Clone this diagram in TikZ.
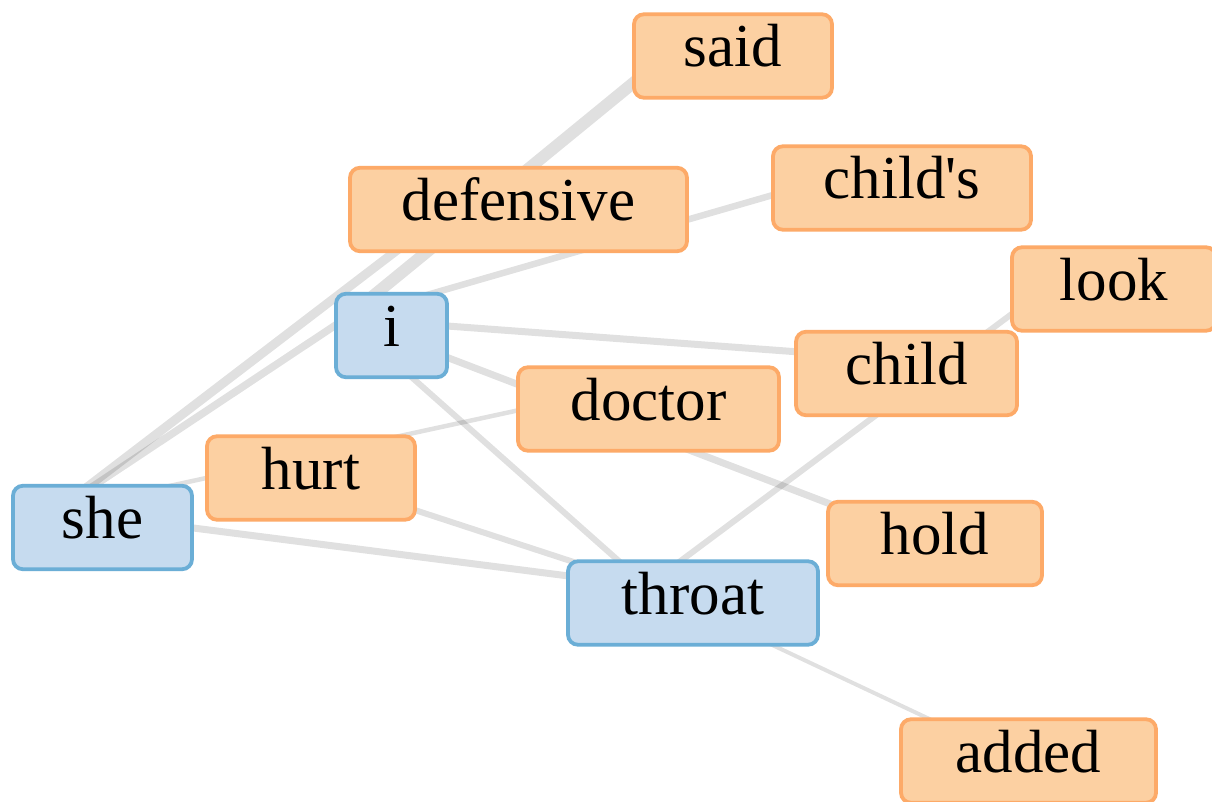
\documentclass[tikz,border=0pt]{standalone}
\usepackage{fontspec}
\setmainfont{Liberation Serif}
\usetikzlibrary{calc}
\pgfdeclarelayer{bg}
\pgfsetlayers{bg,main}
\definecolor{tagfill}{RGB}{252,208,162}
\definecolor{tagline}{RGB}{253,170,104}
\definecolor{keyfill}{RGB}{198,219,239}
\definecolor{keyline}{RGB}{107,174,214}

\begin{document}
\begin{tikzpicture}[x=1pt,y=-1pt,
  word/.style={rounded corners=10pt, line width=3.8pt, minimum height=83.5pt,
    inner sep=0pt, text height=22pt, text depth=0pt,
    font=\fontsize{61}{66}\selectfont},
  tag/.style={word, fill=tagfill, draw=tagline},
  key/.style={word, fill=keyfill, draw=keyline},
  link/.style={draw=black, draw opacity=0.12, line cap=butt},
]
\useasboundingbox (0,0) rectangle (1212,802);

% word boxes
\node[tag, minimum width=198pt] (said)      at (733,56)      {said};
\node[tag, minimum width=337pt] (defensive) at (518.5,209.5) {defensive};
\node[tag, minimum width=258pt] (childs)    at (902,188)     {child\textquotesingle s};
\node[tag, minimum width=204pt] (look)      at (1114,289)    {look};
\node[key, minimum width=111pt] (i)         at (391.5,335.5) {i};
\node[tag, minimum width=221pt] (child)     at (906.5,373.5) {child};
\node[tag, minimum width=261pt] (doctor)    at (648.5,409)   {doctor};
\node[tag, minimum width=208pt] (hurt)      at (311,478)     {hurt};
\node[key, minimum width=179pt] (she)       at (102.5,527.5) {she};
\node[tag, minimum width=214pt] (hold)      at (935,543.5)   {hold};
\node[key, minimum width=250pt] (throat)    at (693,603)     {throat};
\node[tag, minimum width=255pt] (added)     at (1028.5,761)  {added};

% link ends sit up and left of each box centre
\foreach \n in {said,defensive,childs,look,i,child,doctor,hurt,she,hold,throat,added}
  \coordinate (\n-p) at ($(\n.center)+(-46,-17)$);

\begin{pgfonlayer}{bg}
  \fill[white] (0,0) rectangle (1212,802);
  \draw[link, line width=9pt]   (she-p) -- (defensive-p);
  \draw[link, line width=7.5pt] (she-p) -- (i-p);
  \draw[link, line width=12pt]  (i-p) -- (said-p);
  \draw[link, line width=6.5pt] (i-p) -- (childs-p);
  \draw[link, line width=7pt]   (i-p) -- (child-p);
  \draw[link, line width=7pt]   (i-p) -- (hold-p);
  \draw[link, line width=6pt]   (i-p) -- (throat-p);
  \draw[link, line width=4.5pt] (she-p) -- (doctor-p);
  \draw[link, line width=7pt]   (she-p) -- (throat-p);
  \draw[link, line width=6pt]   (hurt-p) -- (throat-p);
  \draw[link, line width=6pt]   (look-p) -- (throat-p);
  \draw[link, line width=4pt]   (throat-p) -- (added-p);
\end{pgfonlayer}
\end{tikzpicture}
\end{document}
